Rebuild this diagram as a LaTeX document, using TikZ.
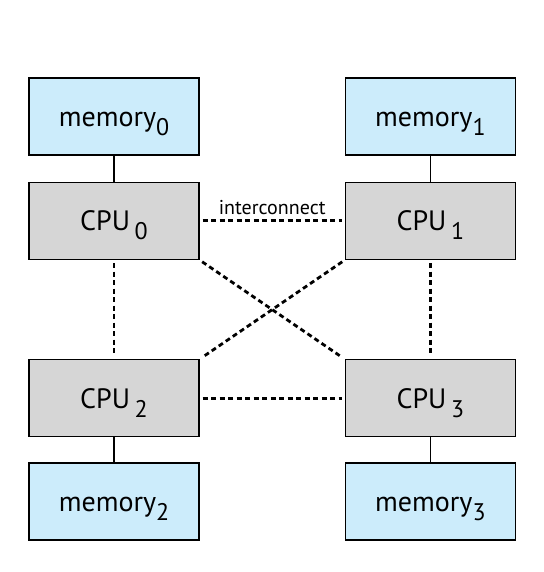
\documentclass[tikz,border=0pt]{standalone}
\usepackage{fontspec}
\setmainfont[Numbers=Lining]{PT Sans}
\usetikzlibrary{positioning}
\tikzset{
	>=latex,
}
\definecolor{memblue}{RGB}{204,236,251}
\definecolor{cpugray}{RGB}{214,214,214}
\newcommand\idx[1]{\raisebox{-9pt}[0pt][0pt]{\fontsize{24}{26}\selectfont #1}}

\begin{document}
\begin{tikzpicture}[x=1pt,y=1pt,
		box/.style={
			rectangle, draw, line width=1.4pt,
			minimum width=170pt, minimum height=77pt,
			inner sep=0pt, font=\fontsize{28}{30}\selectfont,
			text height=19.6pt, text depth=0pt,
		},
		mem/.style={box, fill=memblue},
		cpu/.style={box, fill=cpugray},
		bus/.style={line width=2.8pt, dash pattern=on 5pt off 3.5pt,
			shorten >=3pt, shorten <=3pt},
		wire/.style={line width=1.1pt},
		node distance=26pt and 145pt,
	]
	\useasboundingbox (0,0) rectangle (543,572);
	\node(mem0)[mem] at (114,455.5) {memory\idx{0}};
	\node(cpu0)[cpu,below=of mem0] {CPU\,\idx{0}};
	\node(cpu2)[cpu,below=99pt of cpu0] {CPU\,\idx{2}};
	\node(mem2)[mem,below=25pt of cpu2] {memory\idx{2}};
	\node(mem1)[mem,right=of mem0] {memory\idx{1}};
	\node(cpu1)[cpu,right=of cpu0] {CPU\,\idx{1}};
	\node(cpu3)[cpu,right=of cpu2] {CPU\,\idx{3}};
	\node(mem3)[mem,right=of mem2] {memory\idx{3}};
	% memory to cpu
	\draw[wire] (mem0) -- (cpu0);
	\draw[wire] (mem1) -- (cpu1);
	\draw[wire] (cpu2) -- (mem2);
	\draw[wire] (cpu3) -- (mem3);
	% interconnect
	\draw[bus] (cpu0) -- node(ic)[above=1pt,font=\fontsize{20}{22}\selectfont]{interconnect} (cpu1);
	\draw[bus] (cpu2) -- (cpu3);
	\draw[bus] (cpu0) -- (cpu2);
	\draw[bus] (cpu1) -- (cpu3);
	\draw[bus] (cpu0.south east) -- (cpu3.north west);
	\draw[bus] (cpu1.south west) -- (cpu2.north east);
\end{tikzpicture}
\end{document}
